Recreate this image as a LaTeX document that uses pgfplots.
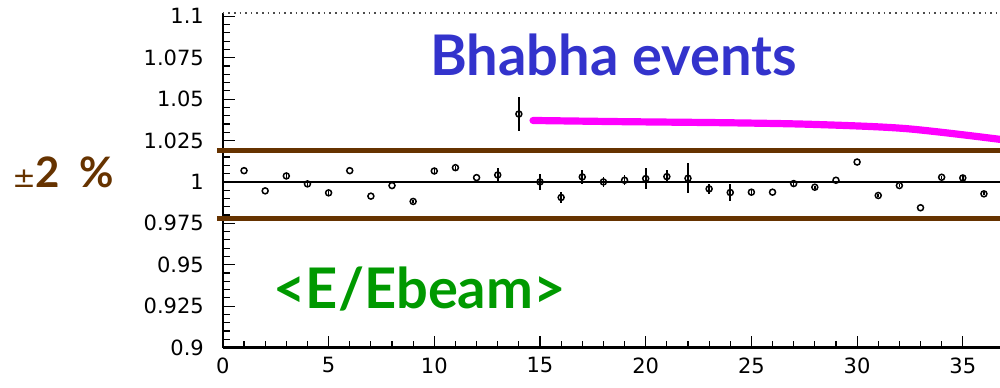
\documentclass[border=0pt]{standalone}
\usepackage{fontspec}
\usepackage{graphicx}
\usepackage{pgfplots}
\pgfplotsset{compat=1.18}
\usepackage{pgfplotstable}

\newfontfamily\tickfont{DejaVu Sans}
\newfontfamily\cfont{Lato}

\definecolor{bhablue}{RGB}{51,51,204}
\definecolor{ebgreen}{RGB}{0,153,0}
\definecolor{bandbrown}{RGB}{102,51,0}
\definecolor{fitpink}{RGB}{255,0,255}

% <E/Ebeam> per run, with statistical error
\pgfplotstableread{
x  y       err
1  1.0068  0
2  0.9946  0
3  1.0036  0.001
4  0.9988  0.0015
5  0.9934  0.0012
6  1.0068  0
7  0.9914  0
8  0.9978  0
9  0.9882  0.001
10 1.0066  0.001
11 1.0086  0.0012
12 1.0026  0
13 1.0042  0.0044
14 1.0410  0.0100
15 1.0000  0.0050
16 0.9906  0.0035
17 1.0030  0.0040
18 1.0000  0.0030
19 1.0010  0.0030
20 1.0020  0.0064
21 1.0032  0.0038
22 1.0022  0.0090
23 0.9958  0.0030
24 0.9936  0.0053
25 0.9938  0.0020
26 0.9938  0
27 0.9990  0.0020
28 0.9968  0.0010
29 1.0010  0
30 1.0120  0
31 0.9918  0.0010
32 0.9978  0.0010
33 0.9844  0
34 1.0028  0.0010
35 1.0024  0.0010
36 0.9928  0.0010
}\ratio

\begin{document}
\begin{tikzpicture}
\begin{axis}[
  name=ax,
  scale only axis,
  width=388.55pt, height=167.25pt,
  xmin=0, xmax=36.76,
  ymin=0.9, ymax=1.102,
  axis x line*=bottom, axis y line*=left,
  clip=false,
  xtick={0,5,10,15,20,25,30,35},
  minor x tick num=4,
  ytick={0.9,0.925,0.95,0.975,1,1.025,1.05,1.075,1.1},
  yticklabels={0.9,0.925,0.95,0.975,1,1.025,1.05,1.075,1.1},
  minor y tick num=4,
  tick align=inside,
  major tick length=6pt,
  minor tick length=3.5pt,
  axis line style={line width=1.1pt},
  every tick/.style={black, line width=0.6pt},
  /pgf/number format/assume math mode=true,
  ticklabel style={font=\tickfont\fontsize{10.5}{12}\selectfont},
  yticklabel style={xshift=-6pt},
  xticklabel style={yshift=-1.5pt},
]
% dotted upper frame
\draw[dotted, line width=0.8pt, black!70] (axis cs:0,1.102) -- (axis cs:36.76,1.102);
% reference at unity
\addplot[black, line width=0.6pt] coordinates {(0,1) (36.76,1)};
% +-2% band
\addplot[bandbrown, line width=2.6pt] coordinates {(-0.28,1.0188) (36.76,1.0188)};
\addplot[bandbrown, line width=2.6pt] coordinates {(-0.28,0.9778) (36.76,0.9778)};
% trend
\addplot[fitpink, line width=3.6pt, line cap=round, smooth] coordinates {
  (14.67,1.0371) (18.8,1.0364) (24,1.0357) (28,1.0347) (32.3,1.0322) (36.76,1.0257)};
% measurements
\addplot[black, only marks, mark=o, mark size=1.5pt, line width=0.75pt,
  error bars/.cd, y dir=both, y explicit, error mark=none,
  error bar style={line width=0.8pt}]
  table[x=x, y=y, y error=err] {\ratio};

\node[anchor=base west, inner sep=0, text=bhablue,
  font=\cfont\bfseries\fontsize{28}{30}\selectfont] at (axis cs:9.8,1.064) {Bhabha events};
\node[anchor=base west, inner sep=0, text=ebgreen,
  font=\cfont\bfseries\fontsize{28}{30}\selectfont] at (axis cs:2.37,0.9235) {<E/Ebeam>};
\node[anchor=base west, inner sep=0, text=bandbrown] at (axis cs:-9.98,0.9965)
  {{\tickfont\fontsize{14}{16}\selectfont ±}{\cfont\bfseries\fontsize{21}{24}\selectfont 2\hspace{0.45em}\%}};
\end{axis}
\pgfresetboundingbox
\path[use as bounding box] ([shift={(-111.45pt,-19.75pt)}]ax.south west)
  rectangle ([shift={(0pt,6.5pt)}]ax.north east);
\end{tikzpicture}
\end{document}
